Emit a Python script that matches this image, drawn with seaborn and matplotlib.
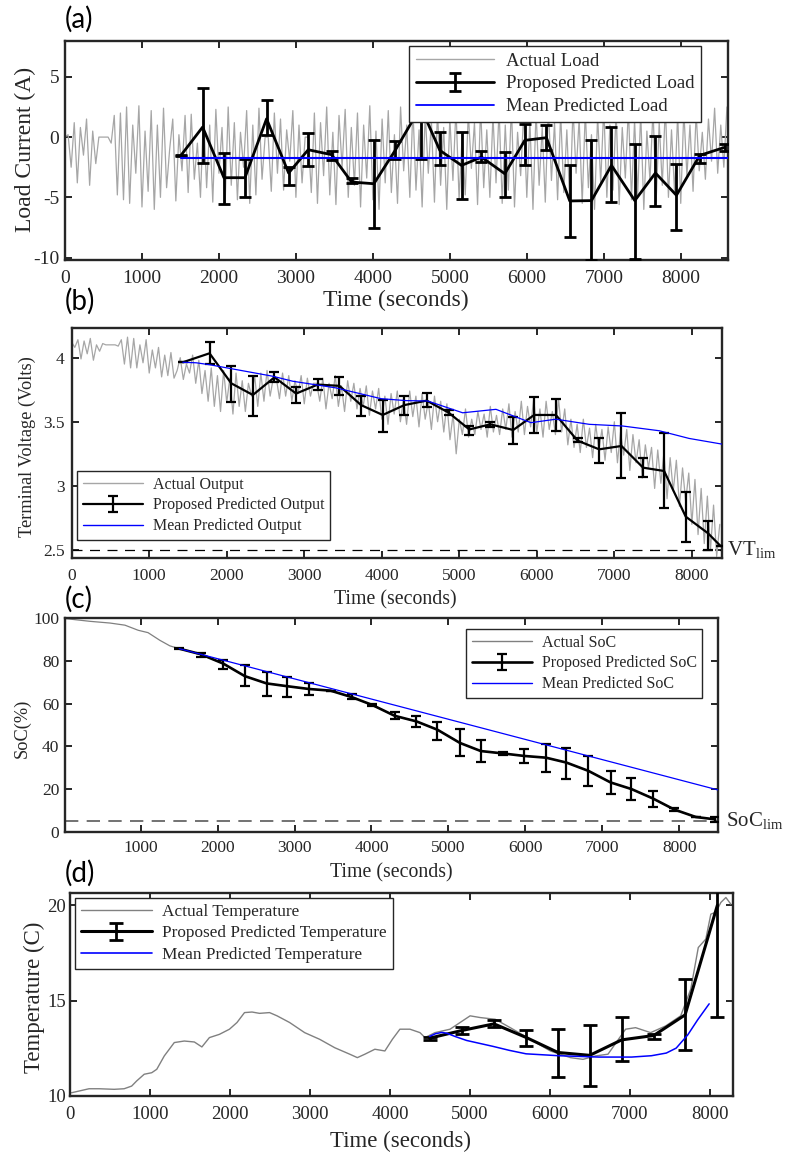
import numpy as np
import matplotlib
matplotlib.use("Agg")
import matplotlib.pyplot as plt
import seaborn as sns
from matplotlib.lines import Line2D

# ---------------- (a) load current ----------------
load_step = 40  # seconds between samples of the measured load
load_actual = [
    0, 0.2, -2.5, 1.2, -3.8, 0.8, -1.5, 1.5, -4.0, 0.5, -2.2, 0, 0, 0, 0, -0.5, 1.8, -4.8, 2.0, -5.2,
    2.5, -5.5, 1.0, -3.0, 2.6, -5.8, 0.5, -4.5, 2.2, -6.0, 1.0, -5.0, 2.4, -4.2, -1.0, 1.5, -5.3, 0.2, -2.8, 1.8,
    -4.6, 1.9, -3.5, -0.5, -5.0, 2.0, -4.2, 1.0, -5.4, 2.3, -3.0, 0.8, -5.6, 2.5, -4.0, 1.2, -5.2, 0.4, -2.5, 2.2,
    -5.5, 1.0, -4.8, 2.4, -3.5, 0, 0, -4.5, 2.0, -3.0, 1.5, -4.4, 0.6, -2.0, 2.2, -5.0, 1.0, -3.8, 0, 0,
    -4.6, 2.0, -5.5, 1.2, -3.2, 2.5, -4.8, 0.4, -5.6, 1.8, -2.5, 2.3, -5.0, 0.8, -4.0, 2.0, -5.8, 1.0, -3.4, 2.6,
    -5.2, 0.5, -6.0, 1.5, -3.8, 2.2, -4.6, 0.2, -5.5, 2.5, -2.8, 1.0, -5.0, 2.4, -4.4, 0.6, -5.8, 2.0, -3.0, 1.4,
    -5.4, 2.2, -4.0, 0.8, -6.0, 1.6, -3.6, 2.4, -5.2, 0.2, -4.8, 2.0, -2.6, 1.2, -5.6, 2.5, -4.2, 0.6, -5.0, 1.8,
    -3.8, 2.3, -5.5, 1.0, -4.4, 2.6, -5.8, 0.4, -3.2, 2.0, -5.0, 1.4, -6.0, 2.2, -4.0, 0.8, -5.4, 2.5, -3.6, 1.2,
    -5.2, 2.0, -4.6, 0.6, -5.8, 2.4, -3.0, 1.5, -5.5, 2.2, -4.2, 0.2, -6.0, 1.8, -3.8, 2.5, -5.0, 1.0, -4.4, 2.1,
    -5.6, 0.8, -3.4, 2.4, -5.2, 1.4, -4.8, 2.0, -6.0, 0.5, -3.6, 2.3, -5.4, 1.2, -4.0, 2.6, -5.0, 0.6, -4.6, 1.9,
    -5.5, 2.2, -3.2, 1.0, -4.5, 2.0, -2.8, 0.4, -3.5, 1.5, -2.0, 2.4, -3.0, 1.0, -2.5, 2.5,
]
load_pred_t = [1502, 1788, 2065, 2338, 2619, 2905, 3160, 3463, 3723, 4013, 4290, 4620, 4870,
               5152, 5411, 5714, 5974, 6255, 6558, 6840, 7100, 7403, 7671, 7944, 8247, 8571]
load_pred = [-1.55, 0.83, -3.37, -3.37, 1.52, -2.98, -1.05, -1.46, -3.73, -3.87, -1.1, 2.5, -1.1,
             -2.35, -1.66, -3.04, -0.27, -0.05, -5.3, -5.27, -2.35, -5.27, -2.98, -4.83, -1.52, -0.85]
load_pred_lo = [-1.6, -2.15, -5.55, -4.97, 0.14, -3.95, -2.43, -1.93, -3.82, -7.51, -1.79, -1.8, -2.35,
                -5.1, -2.07, -4.97, -2.35, -1.1, -8.28, -10.2, -5.38, -10.1, -5.74, -7.73, -2.14, -1.15]
load_pred_hi = [-1.5, 4.06, -1.3, -1.85, 3.12, -2.49, 0.33, -1.18, -3.4, -0.22, -0.36, 6.8, 0.41,
                0.41, -1.16, -1.24, 1.1, 1.0, -2.35, -0.22, 0.83, -0.55, 0.06, -2.2, -1.42, -0.55]
load_mean_t = [1502, 8610]
load_mean = [-1.74, -1.74]

# ---------------- (b) terminal voltage ----------------
volt_step = 40
volt_actual = [
    4.12, 4.08, 4.14, 3.99, 4.13, 4.03, 4.15, 3.98, 4.10, 4.05, 4.11, 4.10, 4.10, 4.10, 4.10, 4.09, 4.14, 3.95, 4.16, 3.92,
    4.15, 3.92, 4.10, 3.96, 4.14, 3.88, 4.06, 3.92, 4.08, 3.85, 4.02, 3.86, 4.04, 3.84, 3.90, 4.00, 3.83, 3.95, 3.88, 4.02,
    3.80, 3.98, 3.72, 3.90, 3.66, 3.92, 3.62, 3.86, 3.58, 3.90, 3.65, 3.84, 3.56, 3.88, 3.62, 3.82, 3.58, 3.80, 3.70, 3.86,
    3.62, 3.88, 3.66, 3.90, 3.70, 3.84, 3.84, 3.68, 3.88, 3.70, 3.86, 3.66, 3.82, 3.72, 3.86, 3.64, 3.84, 3.70, 3.80, 3.80,
    3.66, 3.84, 3.60, 3.80, 3.68, 3.86, 3.62, 3.78, 3.58, 3.82, 3.66, 3.80, 3.60, 3.76, 3.62, 3.78, 3.55, 3.74, 3.60, 3.76,
    3.52, 3.70, 3.48, 3.72, 3.56, 3.74, 3.50, 3.68, 3.48, 3.74, 3.54, 3.70, 3.46, 3.72, 3.52, 3.66, 3.44, 3.70, 3.50, 3.66,
    3.42, 3.64, 3.36, 3.56, 3.25, 3.52, 3.40, 3.60, 3.38, 3.52, 3.40, 3.58, 3.44, 3.56, 3.38, 3.62, 3.42, 3.55, 3.40, 3.60,
    3.44, 3.64, 3.38, 3.58, 3.42, 3.66, 3.40, 3.62, 3.46, 3.68, 3.42, 3.60, 3.38, 3.66, 3.44, 3.58, 3.40, 3.68, 3.42, 3.60,
    3.32, 3.52, 3.30, 3.48, 3.26, 3.52, 3.30, 3.45, 3.22, 3.48, 3.28, 3.44, 3.20, 3.46, 3.26, 3.50, 3.18, 3.42, 3.24, 3.44,
    3.12, 3.40, 3.18, 3.36, 3.06, 3.32, 3.14, 3.30, 2.98, 3.28, 3.02, 3.26, 2.90, 3.22, 2.96, 3.20, 2.84, 3.14, 2.88, 3.10,
    2.70, 3.05, 2.62, 2.98, 2.55, 2.92, 2.50, 2.85, 2.45, 2.70,
]
volt_pred_t = [1434, 1778, 2058, 2337, 2616, 2895, 3174, 3454, 3733, 4012, 4291, 4579, 4863,
               5129, 5400, 5696, 5966, 6246, 6525, 6804, 7092, 7371, 7642, 7921, 8209, 8372]
volt_pred = [3.964, 4.034, 3.80, 3.709, 3.847, 3.72, 3.79, 3.78, 3.63, 3.553, 3.63, 3.665, 3.571,
             3.44, 3.48, 3.436, 3.553, 3.553, 3.353, 3.285, 3.311, 3.142, 3.116, 2.76, 2.63, 2.53]
volt_pred_lo = [3.964, 3.95, 3.657, 3.545, 3.81, 3.644, 3.75, 3.71, 3.547, 3.423, 3.553, 3.613, 3.55,
                3.40, 3.46, 3.324, 3.415, 3.43, 3.34, 3.176, 3.059, 3.072, 2.825, 2.565, 2.50, 2.53]
volt_pred_hi = [3.964, 4.125, 3.935, 3.86, 3.89, 3.774, 3.83, 3.85, 3.70, 3.67, 3.70, 3.727, 3.59,
                3.47, 3.50, 3.54, 3.69, 3.68, 3.37, 3.375, 3.566, 3.215, 3.41, 2.955, 2.726, 2.53]
volt_mean_t = [1434, 1606, 1778, 2594, 2852, 3411, 3991, 4313, 4592, 5043, 5473, 5924,
               6246, 6676, 7105, 7578, 7964, 8385]
volt_mean = [3.964, 3.96, 3.945, 3.855, 3.816, 3.764, 3.68, 3.665, 3.662, 3.57, 3.597, 3.493,
             3.52, 3.48, 3.467, 3.43, 3.37, 3.326]
volt_limit = 2.5

# ---------------- (c) state of charge ----------------
soc_actual_t = [17, 342, 601, 796, 969, 1096, 1250, 1380, 1501]
soc_actual = [99.9, 98.6, 97.8, 96.8, 94.4, 93.3, 89.7, 87.1, 85.8]
soc_pred_t = [1501, 1779, 2073, 2355, 2637, 2903, 3185, 3470, 3750, 4010, 4303, 4585, 4857,
              5150, 5421, 5704, 5986, 6268, 6534, 6820, 7107, 7378, 7656, 7935, 8215, 8464]
soc_pred = [85.8, 83.2, 78.8, 72.9, 69.5, 68.2, 66.9, 66.1, 63.0, 59.4, 54.3, 51.7, 47.8,
            41.6, 37.8, 36.7, 35.5, 34.7, 32.4, 28.5, 23.1, 20.0, 15.6, 10.4, 6.9, 5.8]
soc_pred_lo = [85.5, 82.0, 76.4, 68.2, 63.6, 63.3, 64.1, 66.1, 62.2, 58.8, 52.8, 49.1, 43.2,
               35.5, 32.7, 36.1, 32.0, 28.0, 24.9, 21.5, 17.7, 15.0, 11.7, 9.6, 6.9, 4.6]
soc_pred_hi = [86.1, 83.9, 80.6, 78.0, 74.9, 72.6, 69.9, 66.1, 64.4, 60.0, 56.3, 54.0, 51.2,
               48.3, 42.9, 37.3, 38.9, 41.3, 39.2, 35.5, 28.5, 25.2, 19.2, 11.2, 6.9, 7.0]
soc_mean_t = [1501, 8500]
soc_mean = [85.8, 19.6]
soc_limit = 5

# ---------------- (d) temperature ----------------
temp_actual_t = [19, 113, 238, 364, 552, 677, 771, 834, 928, 1022, 1085, 1179, 1304, 1429, 1555,
                 1649, 1743, 1868, 1994, 2088, 2182, 2276, 2370, 2495, 2589, 2746, 2934, 3122,
                 3310, 3498, 3593, 3687, 3812, 3937, 4031, 4125, 4251, 4376, 4439, 4564, 4752,
                 5003, 5129, 5317, 5505, 5755, 6006, 6257, 6414, 6571, 6727, 6947, 7072, 7260,
                 7448, 7636, 7762, 7856, 7950, 8013, 8075, 8138, 8201, 8263]
temp_actual = [10.17, 10.26, 10.38, 10.38, 10.35, 10.38, 10.52, 10.79, 11.14, 11.22, 11.4, 12.1,
               12.8, 12.88, 12.83, 12.57, 13.06, 13.23, 13.5, 13.85, 14.37, 14.4, 14.33, 14.37,
               14.2, 13.85, 13.32, 12.97, 12.53, 12.19, 12.01, 12.19, 12.45, 12.36, 12.97, 13.5,
               13.5, 13.32, 13.06, 13.32, 13.5, 14.2, 14.11, 14.02, 13.58, 12.97, 12.36, 12.01,
               11.92, 12.1, 12.19, 13.5, 13.58, 13.32, 13.67, 14.2, 15.6, 17.78, 18.22, 19.53,
               19.62, 20.14, 20.4, 20.05]
temp_pred_t = [4497, 4897, 5301, 5702, 6102, 6498, 6898, 7299, 7691, 8095]
temp_pred = [13.03, 13.43, 13.78, 13.07, 12.28, 12.13, 12.94, 13.17, 14.25, 20.0]
temp_pred_lo = [12.96, 13.26, 13.59, 12.6, 10.99, 10.5, 11.81, 12.98, 12.42, 14.16]
temp_pred_hi = [13.1, 13.59, 13.99, 13.47, 13.52, 13.71, 14.13, 13.26, 16.11, 25.84]
temp_mean_t = [4497, 4567, 4649, 4711, 4814, 4959, 5289, 5495, 5702, 6114, 6610, 7022, 7270,
               7456, 7580, 7724, 7848, 7992]
temp_mean = [13.12, 13.26, 13.33, 13.29, 13.12, 12.91, 12.6, 12.39, 12.21, 12.11, 12.04, 12.04,
             12.11, 12.25, 12.51, 13.2, 13.99, 14.83]

# ---------------- figure ----------------
sns.set_theme(style="ticks")
plt.rcParams["font.family"] = ["Liberation Serif", "DejaVu Serif"]
plt.rcParams["mathtext.fontset"] = "custom"
plt.rcParams["mathtext.rm"] = "Liberation Serif"
plt.rcParams["axes.unicode_minus"] = False

W, H = 786, 1156
fig = plt.figure(figsize=(W / 100, H / 100), dpi=100)
fig.patch.set_facecolor("white")

INK = "#262626"
GRAY = "#a6a6a6"
DGRAY = "#808080"
BLUE = "#0000ff"


def add_box(l, t, r, b):
    return fig.add_axes([l / W, 1 - b / H, (r - l) / W, (b - t) / H])


def fig_xy(px, py):
    return px / W, 1 - py / H


def style(ax, xlim, ylim, xticks, yticks, fs, xpad, ypad):
    ax.set_xlim(xlim)
    ax.set_ylim(ylim)
    ax.set_xticks(xticks)
    ax.set_yticks(yticks)
    ax.tick_params(direction="in", top=True, right=True, length=5, width=1.4,
                   labelsize=fs, colors=INK)
    ax.tick_params(axis="x", pad=xpad)
    ax.tick_params(axis="y", pad=ypad)
    for s in ax.spines.values():
        s.set_linewidth(1.7)
        s.set_color(INK)
    ax.set_facecolor("white")


def labels(ax, xlabel, xpos, ylabel, ypos, xfs, yfs):
    ax.set_xlabel("")
    ax.set_ylabel("")
    fig.text(*fig_xy(*xpos), xlabel, ha="center", va="center", fontsize=xfs, color=INK)
    fig.text(*fig_xy(*ypos), ylabel, ha="center", va="center", rotation=90, fontsize=yfs, color=INK)


def legend(ax, handles, names, corner, fs, hl):
    ax.legend(handles, names, loc="upper left", bbox_to_anchor=fig_xy(*corner),
              bbox_transform=fig.transFigure, fontsize=fs, frameon=True, fancybox=False,
              framealpha=1, edgecolor=INK, borderpad=0.35, labelspacing=0.3,
              handlelength=hl, handletextpad=0.6, borderaxespad=0)
    ax.get_legend().get_frame().set_linewidth(1.0)


def panel_tag(text, py):
    fig.text(*fig_xy(65, py), text, fontsize=20, family="Lato", ha="left", va="center",
             color="black")


# panel (a)
ax = add_box(65, 40.7, 727.7, 260)
t_load = np.arange(len(load_actual)) * load_step
sns.lineplot(x=t_load, y=load_actual, ax=ax, color=GRAY, lw=0.9, errorbar=None)
eb = ax.errorbar(load_pred_t, load_pred,
                 yerr=[np.subtract(load_pred, load_pred_lo), np.subtract(load_pred_hi, load_pred)],
                 color="black", lw=2.0, elinewidth=2.0, capsize=4.2, capthick=2.0, zorder=3)
sns.lineplot(x=load_mean_t, y=load_mean, ax=ax, color=BLUE, lw=1.5, errorbar=None, zorder=4)
style(ax, (0, 8610), (-10.2, 8), range(0, 8001, 1000), [-10, -5, 0, 5], 14, 7, 4)
labels(ax, "Time (seconds)", (396, 300), "Load Current (A)", (25, 149), 17, 17)
legend(ax, [Line2D([], [], color=GRAY, lw=1.0), eb, Line2D([], [], color=BLUE, lw=1.3)],
       ["Actual Load", "Proposed Predicted Load", "Mean Predicted Load"], (409, 46), 13.5, 4.2)
panel_tag("(a)", 19)

# panel (b)
ax = add_box(71.7, 328.3, 721.7, 558.3)
t_volt = np.arange(len(volt_actual)) * volt_step
sns.lineplot(x=t_volt, y=volt_actual, ax=ax, color=GRAY, lw=0.9, errorbar=None)
eb = ax.errorbar(volt_pred_t, volt_pred,
                 yerr=[np.subtract(volt_pred, volt_pred_lo), np.subtract(volt_pred_hi, volt_pred)],
                 color="black", lw=1.6, elinewidth=1.6, capsize=3.6, capthick=1.6, zorder=3)
sns.lineplot(x=volt_mean_t, y=volt_mean, ax=ax, color=BLUE, lw=0.9, errorbar=None, zorder=4)
ax.axhline(volt_limit, color="black", lw=0.9, ls=(0, (8, 6)), zorder=2)
style(ax, (0, 8385), (2.435, 4.229), range(0, 8001, 1000), [2.5, 3, 3.5, 4], 12.5, 7, 5)
ax.set_yticklabels(["2.5", "3", "3.5", "4"])
labels(ax, "Time (seconds)", (395, 600), "Terminal Voltage (Volts)", (27, 447), 14.3, 13.2)
legend(ax, [Line2D([], [], color=GRAY, lw=1.0), eb, Line2D([], [], color=BLUE, lw=1.0)],
       ["Actual Output", "Proposed Predicted Output", "Mean Predicted Output"], (77, 471), 11.5, 3.8)
ax.text(1.008, volt_limit, r"VT$_{\mathrm{lim}}$", transform=ax.get_yaxis_transform(),
        fontsize=15, ha="left", va="center", color=INK)
panel_tag("(b)", 301)

# panel (c)
ax = add_box(65, 617.7, 717.7, 831.7)
sns.lineplot(x=soc_actual_t + soc_pred_t[1:], y=soc_actual + soc_pred[1:], ax=ax,
             color=DGRAY, lw=0.9, errorbar=None, sort=False)
eb = ax.errorbar(soc_pred_t, soc_pred,
                 yerr=[np.subtract(soc_pred, soc_pred_lo), np.subtract(soc_pred_hi, soc_pred)],
                 color="black", lw=1.9, elinewidth=1.6, capsize=3.3, capthick=1.6, zorder=3)
sns.lineplot(x=soc_mean_t, y=soc_mean, ax=ax, color=BLUE, lw=0.9, errorbar=None, zorder=4)
ax.axhline(soc_limit, color="#5a5a5a", lw=1.2, ls=(0, (8, 5)), zorder=2)
style(ax, (17, 8500), (0, 100.3), range(1000, 8001, 1000), range(0, 101, 20), 12.5, 6, 4)
labels(ax, "Time (seconds)", (391, 873), "SoC(%)", (22, 728), 14.3, 13.2)
legend(ax, [Line2D([], [], color=DGRAY, lw=1.0), eb, Line2D([], [], color=BLUE, lw=1.0)],
       ["Actual SoC", "Proposed Predicted SoC", "Mean Predicted SoC"], (466, 629), 11.5, 3.8)
ax.text(1.012, soc_limit, r"SoC$_{\mathrm{lim}}$", transform=ax.get_yaxis_transform(),
        fontsize=15, ha="left", va="center", color=INK)
panel_tag("(c)", 599)

# panel (d)
ax = add_box(70, 893.3, 733, 1096)
sns.lineplot(x=temp_actual_t, y=temp_actual, ax=ax, color=DGRAY, lw=1.0, errorbar=None)
eb = ax.errorbar(temp_pred_t, temp_pred,
                 yerr=[np.subtract(temp_pred, temp_pred_lo), np.subtract(temp_pred_hi, temp_pred)],
                 color="black", lw=2.2, elinewidth=2.0, capsize=5.0, capthick=2.0, zorder=3)
sns.lineplot(x=temp_mean_t, y=temp_mean, ax=ax, color=BLUE, lw=1.1, errorbar=None, zorder=4)
style(ax, (0, 8290), (10, 20.62), range(0, 8001, 1000), [10, 15, 20], 13.5, 7, 3)
labels(ax, "Time (seconds)", (401, 1141), "Temperature (C)", (34, 997), 16.5, 16.5)
legend(ax, [Line2D([], [], color=DGRAY, lw=1.0), eb, Line2D([], [], color=BLUE, lw=1.2)],
       ["Actual Temperature", "Proposed Predicted Temperature", "Mean Predicted Temperature"],
       (75, 898), 12.4, 4.1)
panel_tag("(d)", 873)

fig.savefig("out.png", dpi=100, facecolor="white")
